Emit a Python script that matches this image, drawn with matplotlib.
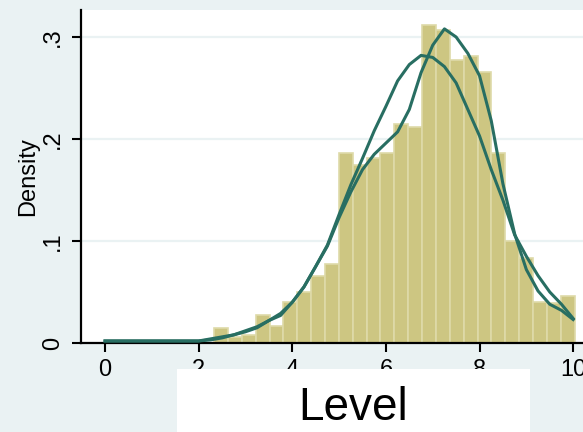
import numpy as np
import matplotlib.pyplot as plt
from matplotlib.patches import Rectangle

plt.rcParams['font.family'] = ['Liberation Sans', 'DejaVu Sans']

# histogram: 26 equal bins between 2.33 and 10.03
bin_edges = np.linspace(2.33, 10.03, 27)
bin_density = [0.015, 0.006, 0.008, 0.027, 0.017, 0.040, 0.050, 0.066, 0.077,
               0.186, 0.175, 0.181, 0.186, 0.215, 0.212, 0.312, 0.307, 0.277,
               0.281, 0.266, 0.186, 0.100, 0.083, 0.040, 0.039, 0.046]

# the two density curves, evaluated on a 0.25 grid
grid_x = [0.0, 0.5, 1.0, 1.5, 2.0, 2.25, 2.5, 2.75, 3.0, 3.25, 3.5, 3.75,
          4.0, 4.25, 4.5, 4.75, 5.0, 5.25, 5.5, 5.75, 6.0, 6.25, 6.5, 6.75,
          7.0, 7.25, 7.5, 7.75, 8.0, 8.25, 8.5, 8.75, 9.0, 9.25, 9.5, 9.75, 10.0]
curve_a = [0.002, 0.002, 0.002, 0.002, 0.002, 0.004, 0.006, 0.008, 0.011,
           0.015, 0.022, 0.029, 0.040, 0.055, 0.075, 0.096, 0.126, 0.155,
           0.181, 0.208, 0.232, 0.257, 0.273, 0.282, 0.280, 0.271, 0.255,
           0.229, 0.203, 0.170, 0.140, 0.106, 0.085, 0.066, 0.050, 0.038, 0.024]
curve_b = [0.002, 0.002, 0.002, 0.002, 0.002, 0.003, 0.005, 0.008, 0.012,
           0.016, 0.022, 0.027, 0.040, 0.055, 0.075, 0.095, 0.123, 0.148,
           0.170, 0.185, 0.196, 0.207, 0.229, 0.265, 0.292, 0.308, 0.300,
           0.284, 0.262, 0.218, 0.156, 0.107, 0.072, 0.051, 0.038, 0.032, 0.023]

x_ticks = [0, 2, 4, 6, 8, 10]
y_ticks = [0, 0.1, 0.2, 0.3]
y_ticklabels = ['0', '.1', '.2', '.3']

bg = '#EAF2F3'
bar_fill = '#CDC682'
bar_edge = '#DEDAA9'
line_col = '#286E62'

fig = plt.figure(figsize=(5.83, 4.32), dpi=100, facecolor=bg)
ax = fig.add_axes([81 / 583, 1 - 343 / 432, 1 - 81 / 583, 333 / 432])
ax.set_facecolor('white')

ax.bar(bin_edges[:-1], bin_density, width=np.diff(bin_edges), align='edge',
       color=bar_fill, edgecolor=bar_edge, linewidth=1.2, zorder=2)
ax.plot(grid_x, curve_a, color=line_col, linewidth=2.2, zorder=3)
ax.plot(grid_x, curve_b, color=line_col, linewidth=2.2, zorder=3)

ax.set_xlim(-0.513, 10.21)
ax.set_ylim(0, 0.3265)
ax.set_xticks(x_ticks)
ax.set_xticklabels([str(t) for t in x_ticks])
ax.set_yticks(y_ticks)
ax.set_yticklabels(y_ticklabels, rotation=90, va='center')
ax.tick_params(direction='out', length=6.5, width=1.5, labelsize=17)
ax.tick_params(axis='x', pad=5)
ax.tick_params(axis='y', pad=6)

ax.yaxis.grid(True, color=bg, linewidth=1.6)
ax.set_axisbelow(True)
for side in ['top', 'right']:
    ax.spines[side].set_visible(False)
for side in ['left', 'bottom']:
    ax.spines[side].set_linewidth(1.6)
    ax.spines[side].set_color('black')

ax.set_ylabel('Density', fontsize=17, labelpad=2)

# white panel holding the x title
fig.patches.append(Rectangle((177 / 583, 0), 353 / 583, 63 / 432,
                             transform=fig.transFigure, facecolor='white',
                             edgecolor='none', zorder=5))
fig.text(353 / 583, 1 - 408 / 432, 'Level', fontsize=33,
         ha='center', va='center', zorder=6)

fig.savefig('out.png', dpi=100, facecolor=bg)
